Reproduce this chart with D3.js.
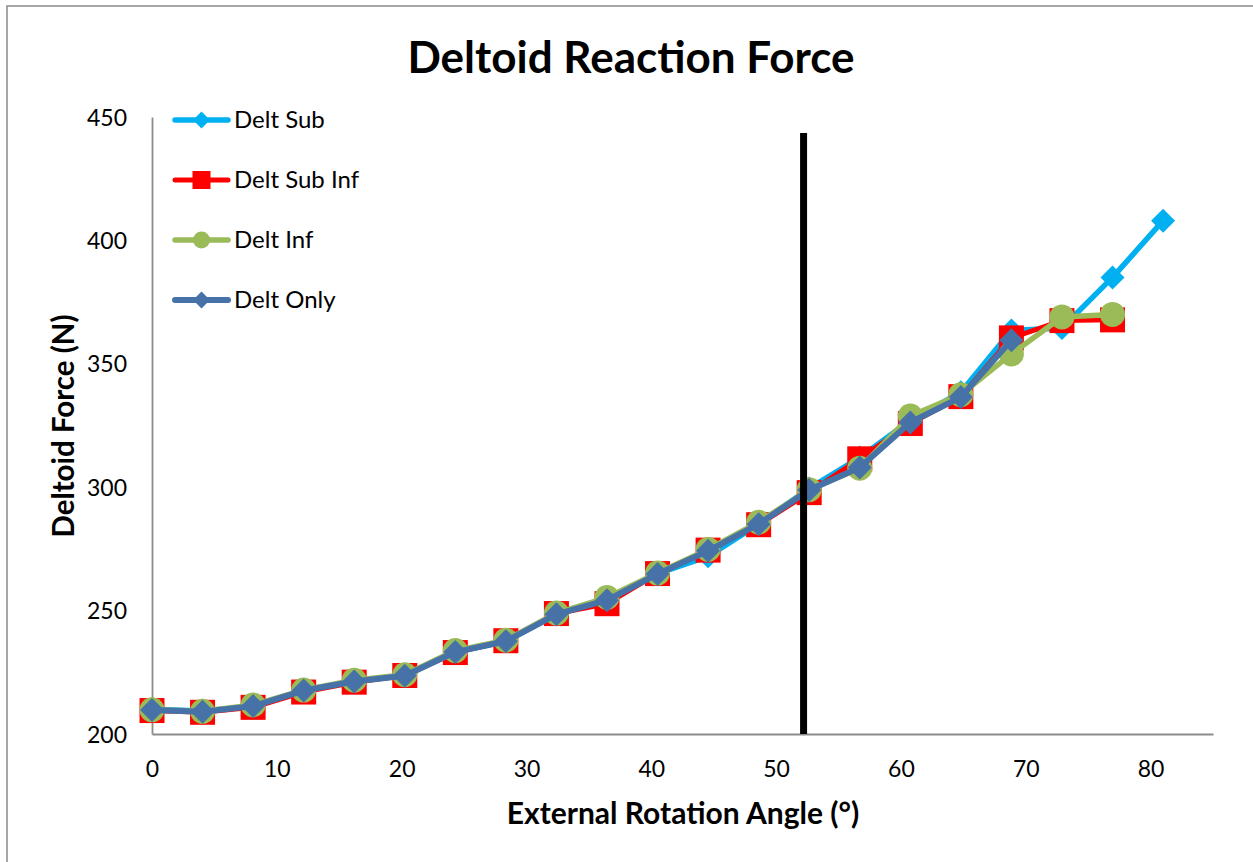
<!DOCTYPE html>
<html>
<head>
<meta charset="utf-8">
<script src="https://cdn.jsdelivr.net/npm/d3@7"></script>
<style>
  html, body { margin: 0; padding: 0; background: #fff; }
  svg { display: block; font-family: Lato, "Open Sans", sans-serif; }
</style>
</head>
<body>
<svg id="chart" width="1253" height="862"></svg>
<script>
// ---- data ----
const angles = [0, 4.05, 8.1, 12.15, 16.2, 20.25, 24.3, 28.35, 32.4, 36.45, 40.5,
                44.55, 48.6, 52.65, 56.7, 60.75, 64.8, 68.85, 72.9, 76.95, 81.0];
const deltSub = [210, 209.3, 211.3, 217.6, 221.5, 223.8, 233.2, 237.6, 248.6, 254.5, 265,
                 272, 285, 299.5, 312, 327, 338.5, 363.5, 364.5, 385, 408];
const deltSubInf = [209.5, 208.8, 210.8, 217, 221, 223.7, 233, 237.8, 248.8, 252.8, 265,
                    274.5, 284.8, 297.8, 311.5, 325.8, 336.7, 360.5, 367.5, 367.8];
const deltInf = [209.8, 209.2, 211.8, 217.8, 221.8, 224, 233.8, 238, 249, 255.3, 265.2,
                 274.8, 285.8, 299, 307.7, 328.8, 337.5, 354, 369, 370];
const deltOnly = [209.7, 209.0, 211.3, 217.6, 221.3, 223.6, 233.2, 237.6, 248.5, 254.2, 264.8,
                  274.2, 285, 298.9, 308, 326.2, 336.5, 359.5];
const markerLine = { angle: 52.2, from: 200, to: 443.5 };
const xTicks = [0, 10, 20, 30, 40, 50, 60, 70, 80];
const yTicks = [200, 250, 300, 350, 400, 450];
const seriesNames = ["Delt Sub", "Delt Sub Inf", "Delt Inf", "Delt Only"];

// ---- setup ----
const svg = d3.select("#chart");
const W = 1253, H = 862;
const plot = { left: 152, right: 1213, top: 117, bottom: 734 };

const x = d3.scaleLinear().domain([0, 85]).range([plot.left, plot.right]);
const y = d3.scaleLinear().domain([200, 450]).range([plot.bottom, plot.top]);

// outer chart border
svg.append("rect")
  .attr("x", 7).attr("y", 6).attr("width", W + 10).attr("height", H + 10)
  .attr("fill", "none").attr("stroke", "#898989").attr("stroke-width", 1.5);

// title
svg.append("text")
  .attr("x", 631).attr("y", 73)
  .attr("text-anchor", "middle")
  .attr("font-size", 44).attr("font-weight", "bold")
  .text("Deltoid Reaction Force");

// axes
const axisColor = "#8c8c8c";
const xAxis = d3.axisBottom(x).tickValues(xTicks).tickSize(0).tickPadding(27).tickFormat(d3.format("d"));
const yAxis = d3.axisLeft(y).tickValues(yTicks).tickSize(0).tickPadding(25).tickFormat(d3.format("d"));

const gx = svg.append("g").attr("transform", `translate(0,${plot.bottom})`).call(xAxis);
const gy = svg.append("g").attr("transform", `translate(${plot.left},0)`).call(yAxis);
[gx, gy].forEach(g => {
  g.select(".domain").attr("stroke", axisColor).attr("stroke-width", 1.8);
  g.selectAll("text").attr("font-size", 23).attr("fill", "#000").attr("font-family", "Lato, sans-serif");
});
gy.selectAll("text").attr("dy", "0.35em");

// axis titles
svg.append("text")
  .attr("x", 683).attr("y", 824)
  .attr("text-anchor", "middle")
  .attr("font-size", 30).attr("font-weight", "bold")
  .text("External Rotation Angle (°)");
svg.append("text")
  .attr("transform", `translate(74,426) rotate(-90)`)
  .attr("text-anchor", "middle")
  .attr("font-size", 29.5).attr("font-weight", "bold")
  .text("Deltoid Force (N)");

// series
const series = [
  { name: seriesNames[0], values: deltSub, color: "#00B0F0", shape: "diamond", width: 5.5, size: 12, lsize: 8.5 },
  { name: seriesNames[1], values: deltSubInf, color: "#FF0000", shape: "square", width: 5, size: 12.5, lsize: 9 },
  { name: seriesNames[2], values: deltInf, color: "#9BBB59", shape: "circle", width: 5.5, size: 12.5, lsize: 8.5 },
  { name: seriesNames[3], values: deltOnly, color: "#4672A8", shape: "diamond", width: 6, size: 12, lsize: 8.5 }
];

function drawMarker(g, shape, cx, cy, s, color) {
  if (shape === "diamond") {
    g.append("path")
      .attr("d", `M${cx},${cy - s}L${cx + s},${cy}L${cx},${cy + s}L${cx - s},${cy}Z`)
      .attr("fill", color);
  } else if (shape === "square") {
    g.append("rect")
      .attr("x", cx - s).attr("y", cy - s).attr("width", 2 * s).attr("height", 2 * s)
      .attr("fill", color);
  } else {
    g.append("circle").attr("cx", cx).attr("cy", cy).attr("r", s).attr("fill", color);
  }
}

const line = d3.line().x(d => x(d[0])).y(d => y(d[1]));

const plotG = svg.append("g");
series.forEach(s => {
  const pts = s.values.map((v, i) => [angles[i], v]);
  const g = plotG.append("g");
  g.append("path")
    .attr("d", line(pts))
    .attr("fill", "none")
    .attr("stroke", s.color)
    .attr("stroke-width", s.width)
    .attr("stroke-linejoin", "round")
    .attr("stroke-linecap", "round");
  pts.forEach(p => drawMarker(g, s.shape, x(p[0]), y(p[1]), s.size, s.color));
});

// vertical black reference line
svg.append("line")
  .attr("x1", x(markerLine.angle)).attr("x2", x(markerLine.angle))
  .attr("y1", y(markerLine.from)).attr("y2", y(markerLine.to))
  .attr("stroke", "#000").attr("stroke-width", 7);

// legend
const legendY = [120, 180, 240, 300];
series.forEach((s, i) => {
  const g = svg.append("g");
  const ly = legendY[i];
  g.append("line")
    .attr("x1", 175).attr("x2", 228).attr("y1", ly).attr("y2", ly)
    .attr("stroke", s.color).attr("stroke-width", s.width).attr("stroke-linecap", "round");
  drawMarker(g, s.shape, 201.5, ly, s.lsize, s.color);
  g.append("text")
    .attr("x", 234).attr("y", ly).attr("dy", "0.35em")
    .attr("font-size", 24)
    .text(s.name);
});
</script>
</body>
</html>
